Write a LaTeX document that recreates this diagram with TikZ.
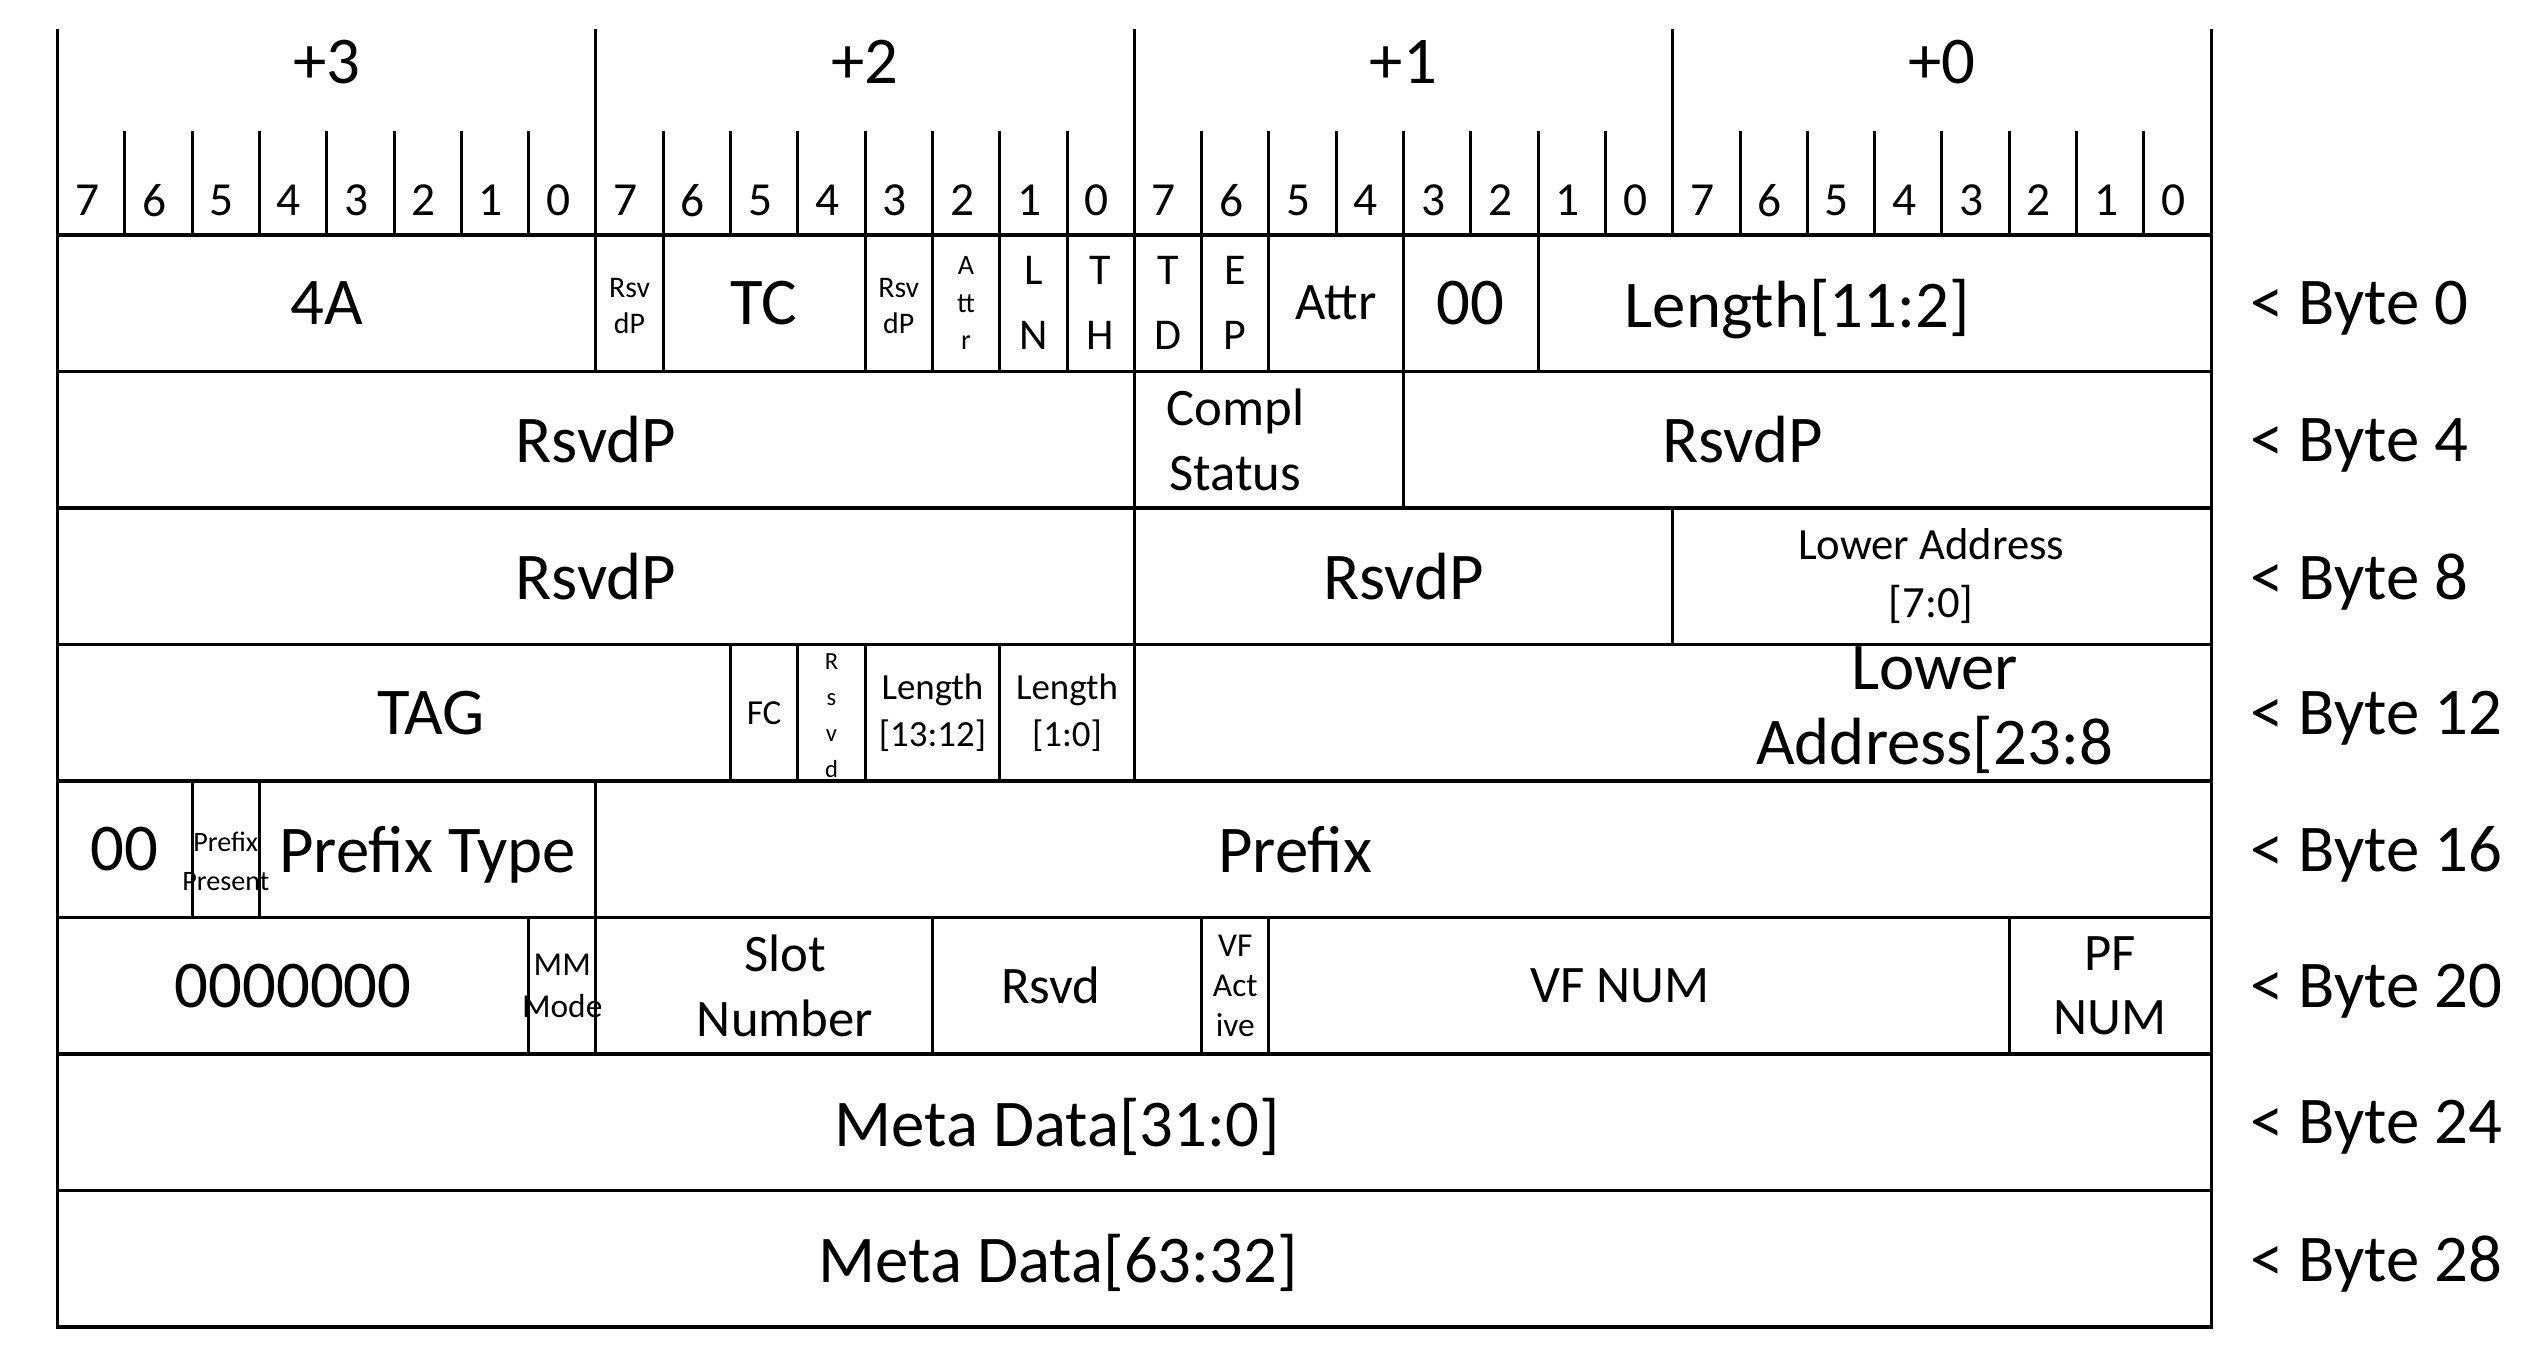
\documentclass[tikz,border=0pt]{standalone}
\usepackage{fontspec}
\setmainfont{Carlito}
\tikzset{
  hl/.style={line width=1.1pt, line cap=rect},
  vl/.style={line width=0.85pt},
  txt/.style={inner sep=0pt, outer sep=0pt, align=center},
  big/.style={txt, text depth=0pt, font=\fontsize{19pt}{23pt}\selectfont},
  bigml/.style={txt, font=\fontsize{19pt}{21.5pt}\selectfont},
  bitn/.style={txt, text depth=0pt, font=\fontsize{13.5pt}{16pt}\selectfont},
  med/.style={txt, font=\fontsize{15pt}{18.3pt}\selectfont},
  letters/.style={txt, font=\fontsize{12.5pt}{18.5pt}\selectfont},
  smalltxt/.style={txt, font=\fontsize{12.7pt}{16.5pt}\selectfont},
  lentxt/.style={txt, font=\fontsize{10.5pt}{13.3pt}\selectfont},
  fctxt/.style={txt, text depth=0pt, font=\fontsize{10pt}{12pt}\selectfont},
  tinytxt/.style={txt, font=\fontsize{8.5pt}{10.5pt}\selectfont},
  attrtxt/.style={txt, font=\fontsize{8pt}{10.7pt}\selectfont},
  vertxt/.style={txt, font=\fontsize{7pt}{10.2pt}\selectfont},
  pptxt/.style={txt, font=\fontsize{8pt}{11pt}\selectfont},
  mmtxt/.style={txt, font=\fontsize{9.5pt}{12pt}\selectfont},
  vftxt/.style={txt, font=\fontsize{9.5pt}{11.4pt}\selectfont},
}
\begin{document}
\begin{tikzpicture}
\useasboundingbox (0,0) rectangle (25.23,-13.48);
\begin{scope}[shift={(0.575,-2.35)}, x=0.673cm, y=-1.365cm]
% horizontal row lines
\foreach \r in {0,...,8} \draw[hl] (0,\r) -- (32,\r);
% outer verticals and byte lines in header
\draw[vl] (0,-1.509) -- (0,8);
\draw[vl] (32,-1.509) -- (32,8);
\foreach \b in {8,16,24} \draw[vl] (\b,-1.509) -- (\b,0);
% bit ticks
\foreach \b in {1,...,31} \draw[vl] (\b,-0.762) -- (\b,0);
% header labels
\node[big] (hb3) at (4,-1.267) {+3};
\node[big] (hb2) at (12,-1.267) {+2};
\node[big] (hb1) at (20,-1.267) {+1};
\node[big] (hb0) at (28,-1.267) {+0};
\foreach \i [evaluate=\i as \bn using {int(7-mod(\i,8))}] in {0,...,31}
  \node[bitn] (bit\i) at (\i+0.44,-0.256) {\bn};
% row separators
\foreach \b in {8,9,12,13,14,15,16,17,18,20,22} \draw[vl] (\b,0) -- (\b,1);
\foreach \b in {16,20} \draw[vl] (\b,1) -- (\b,2);
\foreach \b in {16,24} \draw[vl] (\b,2) -- (\b,3);
\foreach \b in {10,11,12,14,16} \draw[vl] (\b,3) -- (\b,4);
\foreach \b in {2,3,8} \draw[vl] (\b,4) -- (\b,5);
\foreach \b in {7,8,13,17,18,29} \draw[vl] (\b,5) -- (\b,6);
% row 0
\node[big] (r0a) at (4,0.5) {4A};
\node[tinytxt] (r0b) at (8.5,0.52) {Rsv\\dP};
\node[big] (r0c) at (10.5,0.5) {TC};
\node[tinytxt] (r0d) at (12.5,0.52) {Rsv\\dP};
\node[attrtxt] (r0e) at (13.5,0.5) {A\\tt\\r};
\node[letters] (r0f) at (14.5,0.5) {L\\N};
\node[letters] (r0g) at (15.5,0.5) {T\\H};
\node[letters] (r0h) at (16.5,0.5) {T\\D};
\node[letters] (r0i) at (17.5,0.5) {E\\P};
\node[med] (r0j) at (19,0.5) {Attr};
\node[big] (r0k) at (21,0.5) {00};
\node[big] (r0l) at (25.85,0.5) {Length[11:2]};
% row 1
\node[big] (r1a) at (8,1.5) {RsvdP};
\node[med] (r1b) at (17.5,1.5) {Compl\\Status};
\node[big] (r1c) at (25.04,1.5) {RsvdP};
% row 2
\node[big] (r2a) at (8,2.5) {RsvdP};
\node[big] (r2b) at (20,2.5) {RsvdP};
\node[smalltxt] (r2c) at (27.84,2.5) {Lower Address\\{[7:0]}};
% row 3
\node[big] (r3a) at (5.55,3.5) {TAG};
\node[fctxt] (r3b) at (10.5,3.5) {FC};
\node[vertxt] (r3c) at (11.5,3.52) {R\\s\\v\\d};
\node[lentxt] (r3d) at (13,3.5) {Length\\{[13:12]}};
\node[lentxt] (r3e) at (15,3.5) {Length\\{[1:0]}};
\node[bigml] (r3f) at (27.89,3.48) {Lower\\Address[23:8};
% row 4
\node[big] (r4a) at (1,4.5) {00};
\node[pptxt] (r4b) at (2.5,4.59) {Prefix\\Present};
\node[big] (r4c) at (5.5,4.5) {Prefix Type};
\node[big] (r4d) at (18.39,4.5) {Prefix};
% row 5
\node[big] (r5a) at (3.5,5.5) {0000000};
\node[mmtxt] (r5b) at (7.5,5.5) {MM\\Mode};
\node[med] (r5c) at (10.81,5.5) {Slot\\Number};
\node[med] (r5d) at (14.76,5.5) {Rsvd};
\node[vftxt] (r5e) at (17.5,5.5) {VF\\Act\\ive};
\node[med] (r5f) at (23.22,5.5) {VF NUM};
\node[med] (r5g) at (30.5,5.5) {PF\\NUM};
% rows 6, 7
\node[big] (r6a) at (14.85,6.5) {Meta Data[31:0]};
\node[big] (r7a) at (14.87,7.5) {Meta Data[63:32]};
% byte offsets
\foreach \r/\n in {0/0,1/4,2/8,3/12,4/16,5/20,6/24,7/28}
  \node[big, anchor=west] (lab\r) at (32.58,\r+0.5) {< Byte \n};
\end{scope}
\end{tikzpicture}
\end{document}
